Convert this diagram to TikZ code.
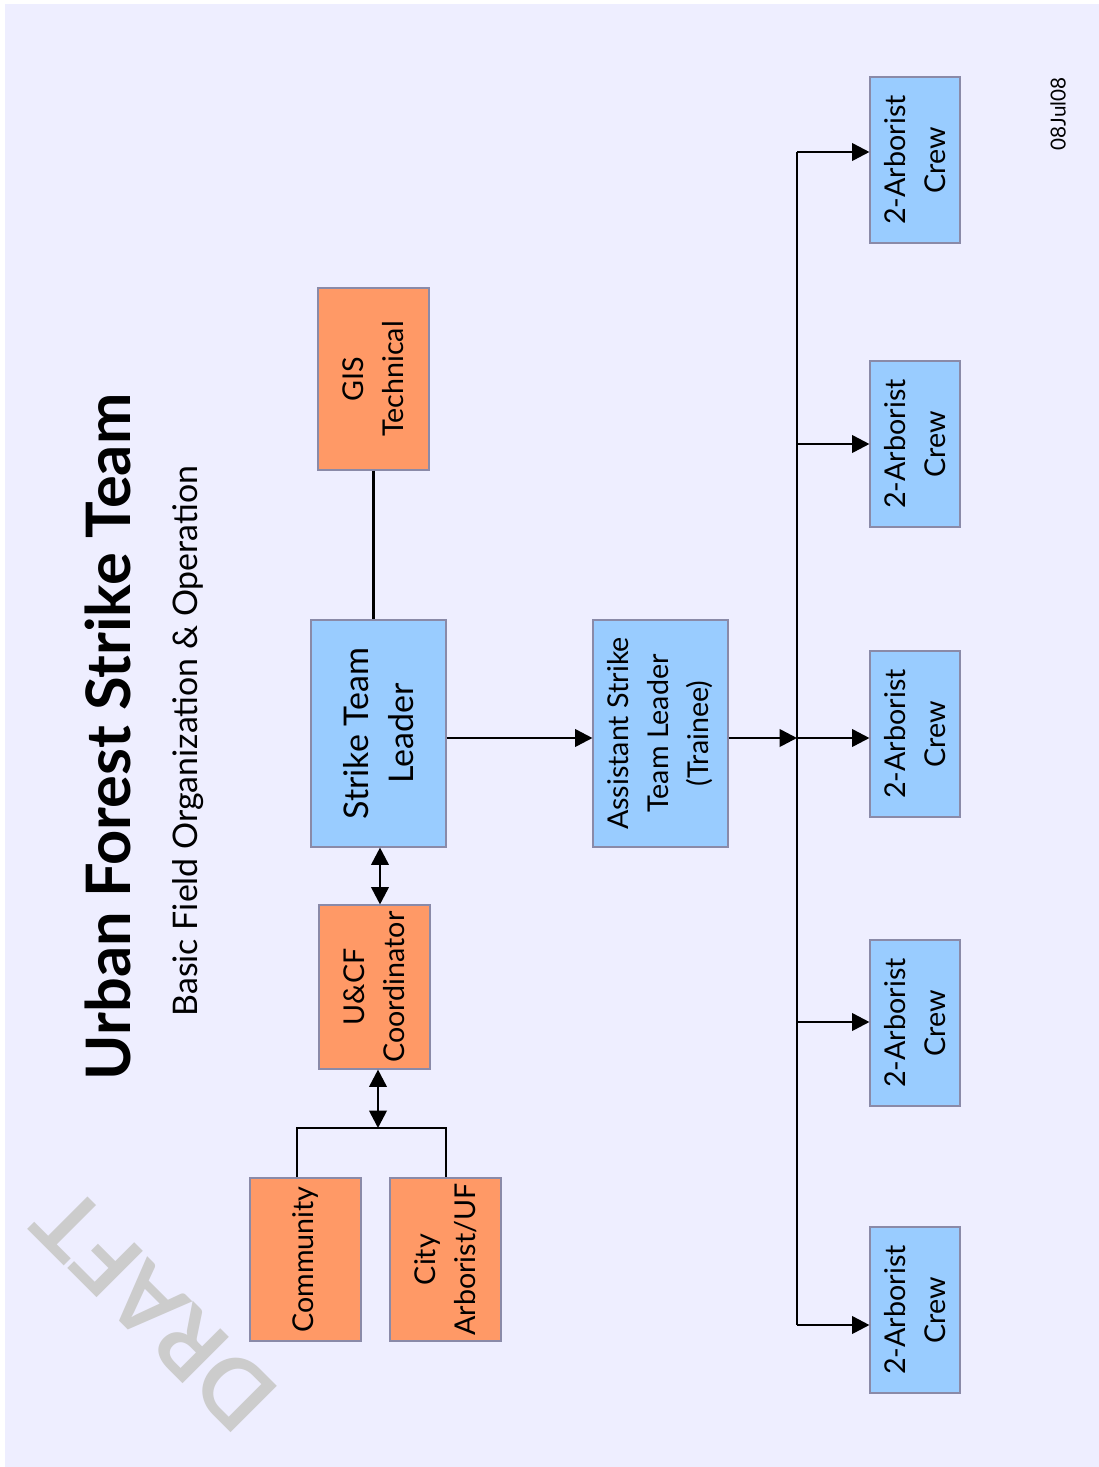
\documentclass[tikz,border=0pt]{standalone}
\usepackage{fontspec}
\setmainfont{Lato}
\usetikzlibrary{arrows.meta}
\definecolor{bgc}{HTML}{EEEEFF}
\definecolor{orangebox}{HTML}{FF9966}
\definecolor{bluebox}{HTML}{99CCFF}
\definecolor{boxline}{HTML}{8A8AA8}
\definecolor{wmark}{HTML}{CCCCCC}
\begin{document}
\begin{tikzpicture}[x=0.75pt,y=0.75pt,
  box/.style={draw=boxline, line width=0.8pt, rotate=90, align=center, inner sep=0pt,
    font=\fontsize{21.5}{30}\selectfont},
  obox/.style={box, fill=orangebox},
  bbox/.style={box, fill=bluebox},
  conn/.style={line width=2pt, draw=black},
  arr/.style={conn, -{Triangle[length=13pt,width=13pt]}},
  darr/.style={conn, {Triangle[length=13pt,width=13pt]}-{Triangle[length=13pt,width=13pt]}}
]
\useasboundingbox (0,0) rectangle (1099,-1467);
\fill[bgc] (5,-4) rectangle (1099,-1467);

% watermark
\node[rotate=135, text=wmark, font=\fontsize{68}{68}\bfseries\selectfont] (draft) at (155,-1310) {DRAFT};

% titles
\node[rotate=90, font=\fontsize{46}{48}\bfseries\selectfont] (title) at (108,-737) {Urban Forest Strike Team};
\node[rotate=90, font=\fontsize{25.4}{28}\selectfont] (subtitle) at (188,-741) {Basic Field Organization \& Operation};
\node[rotate=90, font=\fontsize{15.5}{18}\selectfont] (date) at (1058,-114) {08Jul08};

% boxes (rotated: minimum width = vertical extent, minimum height = horizontal extent)
\node[obox, minimum width=182pt*0.75, minimum height=111pt*0.75] (gis) at (373.5,-379) {GIS\\Technical};
\node[bbox, minimum width=227pt*0.75, minimum height=135pt*0.75, font=\fontsize{25.5}{34}\selectfont] (stl) at (378.5,-733.5) {Strike Team\\Leader};
\node[obox, minimum width=164pt*0.75, minimum height=111pt*0.75] (ucf) at (374.5,-987) {U\&CF\\Coordinator};
\node[obox, minimum width=163pt*0.75, minimum height=111pt*0.75] (comm) at (305.5,-1259.5) {Community};
\node[obox, minimum width=163pt*0.75, minimum height=111pt*0.75] (city) at (445.5,-1259.5) {City\\Arborist/UF};
\node[bbox, minimum width=227pt*0.75, minimum height=135pt*0.75] (astl) at (660.5,-733.5) {Assistant Strike\\Team Leader\\(Trainee)};
\node[bbox, minimum width=166pt*0.75, minimum height=90pt*0.75] (crew1) at (915,-160) {2-Arborist\\Crew};
\node[bbox, minimum width=166pt*0.75, minimum height=90pt*0.75] (crew2) at (915,-444) {2-Arborist\\Crew};
\node[bbox, minimum width=166pt*0.75, minimum height=90pt*0.75] (crew3) at (915,-734) {2-Arborist\\Crew};
\node[bbox, minimum width=166pt*0.75, minimum height=90pt*0.75] (crew4) at (915,-1023) {2-Arborist\\Crew};
\node[bbox, minimum width=166pt*0.75, minimum height=90pt*0.75] (crew5) at (915,-1310) {2-Arborist\\Crew};

% connectors
\draw[conn] (gis.west) -- (gis.west |- stl.east);
\draw[darr] (stl.west -| 380,0) -- (ucf.east -| 380,0);
\coordinate (bj) at (378,-1128);
\coordinate (bl) at (297,-1128);
\coordinate (br) at (446,-1128);
\draw[darr] (ucf.west -| bj) -- (bj);
\draw[conn] (comm.east -| bl) -- (bl) -- (br) -- (city.east -| br);
\draw[arr] (stl.south |- 0,-738) -- (astl.north |- 0,-738);
\coordinate (t1) at (797,-152);
\coordinate (t2) at (797,-444);
\coordinate (t3) at (797,-738);
\coordinate (t4) at (797,-1022);
\coordinate (t5) at (797,-1325);
\draw[conn] (t1) -- (t5);
\draw[arr] (astl.south |- t3) -- (t3);
\draw[arr] (t1) -- (t1 -| crew1.north);
\draw[arr] (t2) -- (t2 -| crew2.north);
\draw[arr] (t3) -- (t3 -| crew3.north);
\draw[arr] (t4) -- (t4 -| crew4.north);
\draw[arr] (t5) -- (t5 -| crew5.north);
\end{tikzpicture}
\end{document}
